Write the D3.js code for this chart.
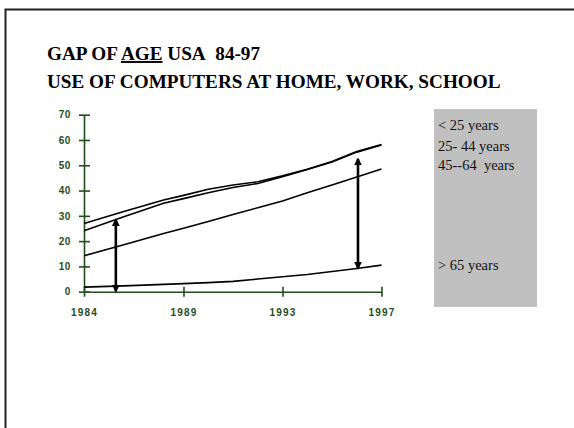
<!DOCTYPE html>
<html>
<head>
<meta charset="utf-8">
<script src="https://cdn.jsdelivr.net/npm/d3@7"></script>
<style>
  body { margin: 0; background: #fff; }
  svg { display: block; }
</style>
</head>
<body>
<div id="chart"></div>
<script>
// years the lines were read at, and the four labelled ticks
var years = [1984, 1986, 1988, 1989, 1990, 1991, 1992, 1993, 1994, 1995, 1996, 1997];
var tickYears = [1984, 1989, 1993, 1997];
var yTicks = [0, 10, 20, 30, 40, 50, 60, 70];

// percent using a computer, by age group
var under25 = [27, 31.7, 36.3, 38.1, 40.5, 42.2, 43.5, 45.8, 48.4, 51.5, 55.4, 58.2];
var age25to44 = [24.1, 29.6, 35, 36.8, 39.1, 41.2, 42.8, 45.5, 48.3, 51.3, 55.2, 58];
var age45to64 = [14.2, 18.6, 23, 25.1, 27.8, 30.5, 33.2, 35.9, 39.1, 42.2, 45.4, 48.5];
var over65 = [1.8, 2.3, 2.9, 3.2, 3.6, 4.1, 5, 5.9, 6.8, 8, 9.2, 10.5];

var legendLabels = ["< 25 years", "25- 44 years", "45--64  years", "> 65 years"];

// the two gap arrows: [year, from, to]
var gaps = [[1985.6, 0.2, 28.5], [1996.05, 9.3, 52.5]];

(function(){
	var width = 574,
	    height = 428;

	var axisColor = "#1f4d1f";

	var svg = d3.select("#chart")
	  .append("svg")
	  .attr("width", width)
	  .attr("height", height);

	var defs = svg.append("defs");

	// slide frame, only top and left edges show
	svg.append("path")
	  .attr("d", "M5.5," + height + "V9.5H" + width)
	  .attr("fill", "none")
	  .attr("stroke", "#222")
	  .attr("stroke-width", 2);

	// title
	var title = svg.append("text")
	  .attr("x", 47)
	  .attr("y", 60)
	  .attr("font-family", "'Liberation Serif', 'Times New Roman', serif")
	  .attr("font-weight", "bold")
	  .attr("font-size", 19.2)
	  .attr("fill", "#000");
	title.append("tspan").text("GAP OF ");
	title.append("tspan").attr("text-decoration", "underline").text("AGE");
	title.append("tspan").text(" USA\u00a0\u00a084-97");

	svg.append("text")
	  .attr("x", 47)
	  .attr("y", 87.5)
	  .attr("font-family", "'Liberation Serif', 'Times New Roman', serif")
	  .attr("font-weight", "bold")
	  .attr("font-size", 19.2)
	  .attr("fill", "#000")
	  .text("USE OF COMPUTERS AT HOME, WORK, SCHOOL");

	// the category axis spaces the labelled years evenly
	var x = d3.scaleLinear()
	  .domain(tickYears)
	  .range([84, 183.5, 282.5, 381.5]);

	var y = d3.scaleLinear()
	  .domain([0, 70])
	  .range([291.7, 114.7]);

	var axisFont = "'Liberation Sans', Arial, sans-serif";

	// y axis, ticks cross the line
	var gy = svg.append("g")
	  .attr("transform", "translate(" + x(1984) + ",0)")
	  .call(d3.axisLeft(y).tickValues(yTicks).tickSize(0).tickPadding(13));
	gy.select(".domain").attr("stroke", axisColor).attr("stroke-width", 1.6);
	gy.selectAll(".tick line")
	  .attr("x1", -5).attr("x2", 6)
	  .attr("stroke", axisColor).attr("stroke-width", 1.6);
	gy.selectAll(".tick text")
	  .attr("fill", axisColor)
	  .attr("font-family", axisFont)
	  .attr("font-weight", "bold")
	  .attr("font-size", 10)
	  .attr("letter-spacing", 0.6);

	// x axis
	var gx = svg.append("g")
	  .attr("transform", "translate(0," + y(0) + ")")
	  .call(d3.axisBottom(x).tickValues(tickYears).tickFormat(d3.format("d")).tickSize(0).tickPadding(17));
	gx.select(".domain").attr("stroke", axisColor).attr("stroke-width", 1.6);
	gx.selectAll(".tick line")
	  .attr("y1", -5).attr("y2", 5)
	  .attr("stroke", axisColor).attr("stroke-width", 1.6);
	gx.selectAll(".tick text")
	  .attr("fill", axisColor)
	  .attr("font-family", axisFont)
	  .attr("font-weight", "bold")
	  .attr("font-size", 10)
	  .attr("letter-spacing", 1.2);
	svg.selectAll(".domain").attr("fill", "none");

	// the four age lines
	var series = [under25, age25to44, age45to64, over65];

	var line = d3.line()
	  .x(function(d, i) { return x(years[i]) })
	  .y(function(d) { return y(d) });

	svg.selectAll(".age-line")
	  .data(series)
	  .enter().append("path")
	  .attr("class", "age-line")
	  .attr("d", line)
	  .attr("fill", "none")
	  .attr("stroke", "#000")
	  .attr("stroke-width", 1.6)
	  .attr("stroke-linejoin", "round");

	// arrowheads for the gap arrows
	defs.append("marker")
	  .attr("id", "head")
	  .attr("viewBox", "0 0 10 10")
	  .attr("refX", 8)
	  .attr("refY", 5)
	  .attr("markerWidth", 3)
	  .attr("markerHeight", 3)
	  .attr("orient", "auto-start-reverse")
	  .append("path")
	  .attr("d", "M0,0L10,5L0,10Z")
	  .attr("fill", "#000");

	svg.selectAll(".gap")
	  .data(gaps)
	  .enter().append("line")
	  .attr("class", "gap")
	  .attr("x1", function(d) { return x(d[0]) })
	  .attr("x2", function(d) { return x(d[0]) })
	  .attr("y1", function(d) { return y(d[1]) })
	  .attr("y2", function(d) { return y(d[2]) })
	  .attr("stroke", "#000")
	  .attr("stroke-width", 2.6)
	  .attr("marker-start", "url(#head)")
	  .attr("marker-end", "url(#head)");

	// legend box on the right
	svg.append("rect")
	  .attr("x", 434)
	  .attr("y", 109)
	  .attr("width", 103)
	  .attr("height", 198)
	  .attr("fill", "#c0c0c0");

	var legendY = [130, 151, 170, 270];

	svg.selectAll(".legend-label")
	  .data(legendLabels)
	  .enter().append("text")
	  .attr("class", "legend-label")
	  .attr("x", 438)
	  .attr("y", function(d, i) { return legendY[i] })
	  .attr("font-family", "'Liberation Serif', 'Times New Roman', serif")
	  .attr("font-size", 14.5)
	  .attr("fill", "#111")
	  .style("white-space", "pre")
	  .text(function(d) { return d });

})();
</script>
</body>
</html>
